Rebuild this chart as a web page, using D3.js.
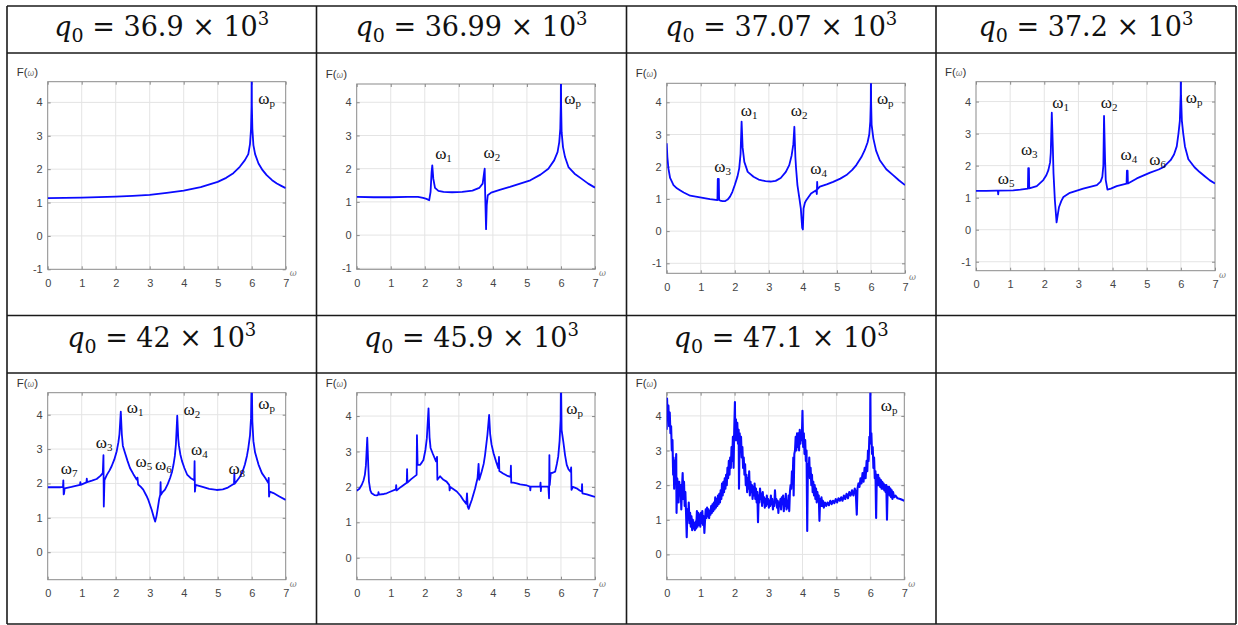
<!DOCTYPE html>
<html><head><meta charset="utf-8">
<script src="https://cdn.jsdelivr.net/npm/d3@7"></script>
<style>body{margin:0;background:#fff}svg{display:block}</style>
</head><body>
<svg id="c" width="1238" height="625"></svg>
<script>
// ---------- DATA ----------
const mantissas = ["36.9","36.99","37.07","37.2","42","45.9","47.1"];
const xTicks = [0,1,2,3,4,5,6,7];
const yTicks = [-1,0,1,2,3,4];

const s1 = [[0,1.13],[0.5,1.14],[1,1.15],[1.5,1.16],[2,1.18],[2.5,1.2],[3,1.23],[3.5,1.29],[4,1.36],[4.5,1.46],[5,1.62],[5.25,1.74],[5.46,1.88],[5.65,2.07],[5.8,2.27],[5.9,2.45],[5.95,2.75],[5.98,3.2],[5.995,3.9],[6.0,5.2],[6.005,3.9],[6.02,3.2],[6.05,2.72],[6.1,2.45],[6.2,2.17],[6.32,1.97],[6.44,1.82],[6.6,1.67],[6.74,1.57],[6.87,1.5],[7,1.43]];

const s2 = [[0,1.15],[0.5,1.14],[1,1.14],[1.5,1.15],[1.8,1.15],[1.95,1.12],[2.05,1.09],[2.13,1.05],[2.17,1.3],[2.2,1.9],[2.22,2.1],[2.25,1.7],[2.3,1.42],[2.4,1.33],[2.55,1.3],[2.8,1.29],[3.1,1.3],[3.4,1.34],[3.6,1.42],[3.7,1.55],[3.745,1.9],[3.76,2.0],[3.775,1.2],[3.8,0.18],[3.82,0.9],[3.85,1.2],[3.95,1.28],[4.2,1.36],[4.5,1.45],[4.8,1.55],[5.1,1.65],[5.4,1.82],[5.63,2.0],[5.8,2.25],[5.9,2.5],[5.95,2.8],[5.98,3.2],[5.995,3.9],[6.0,5.2],[6.005,3.9],[6.02,3.1],[6.06,2.65],[6.12,2.35],[6.22,2.05],[6.4,1.85],[6.6,1.7],[6.8,1.55],[7,1.43]];

const s3 = [[0,2.73],[0.02,2.3],[0.05,1.95],[0.1,1.65],[0.2,1.43],[0.3,1.33],[0.39,1.27],[0.5,1.2],[0.69,1.1],[0.98,1.05],[1.27,0.99],[1.49,0.96],[1.5,1.62],[1.53,1.62],[1.54,0.97],[1.57,0.95],[1.64,0.93],[1.71,0.93],[1.79,0.98],[1.86,1.07],[1.93,1.22],[2.0,1.43],[2.08,1.7],[2.13,1.95],[2.17,2.4],[2.2,3.4],[2.23,2.6],[2.28,2.15],[2.38,1.84],[2.55,1.69],[2.7,1.6],[2.9,1.55],[3.05,1.54],[3.2,1.56],[3.35,1.65],[3.5,1.84],[3.6,2.05],[3.67,2.35],[3.72,2.7],[3.75,3.24],[3.78,2.3],[3.8,1.95],[3.84,1.43],[3.9,1.0],[3.94,0.7],[3.98,0.1],[4.0,0.05],[4.02,0.7],[4.06,0.88],[4.1,0.96],[4.24,1.17],[4.39,1.27],[4.41,1.15],[4.42,1.53],[4.43,1.3],[4.5,1.38],[4.7,1.45],[4.89,1.53],[5.1,1.63],[5.28,1.74],[5.45,1.9],[5.57,2.05],[5.72,2.3],[5.82,2.52],[5.9,2.75],[5.95,3.0],[5.98,3.4],[5.995,4.0],[6.0,5.2],[6.005,4.0],[6.02,3.3],[6.07,2.88],[6.15,2.5],[6.26,2.2],[6.45,1.92],[6.65,1.74],[6.82,1.58],[7,1.43]];

const s4 = [[0,1.21],[0.3,1.21],[0.6,1.22],[0.64,1.22],[0.65,1.1],[0.66,1.22],[1.09,1.23],[1.3,1.25],[1.52,1.28],[1.53,1.92],[1.55,1.92],[1.56,1.29],[1.78,1.36],[1.97,1.55],[2.06,1.7],[2.12,1.86],[2.17,2.1],[2.19,2.4],[2.22,3.65],[2.25,2.6],[2.27,1.76],[2.31,0.92],[2.36,0.23],[2.4,0.5],[2.43,0.7],[2.5,0.9],[2.56,1.02],[2.75,1.15],[3.14,1.28],[3.54,1.39],[3.65,1.5],[3.7,1.65],[3.73,2.0],[3.75,3.55],[3.78,2.2],[3.8,1.55],[3.85,1.25],[3.95,1.28],[4.12,1.36],[4.41,1.44],[4.42,1.84],[4.44,1.84],[4.45,1.44],[4.71,1.6],[5.1,1.78],[5.35,1.88],[5.5,1.96],[5.7,2.17],[5.8,2.35],[5.88,2.6],[5.93,3.0],[5.97,3.4],[5.995,4.2],[6.0,5.2],[6.005,4.2],[6.03,3.4],[6.07,3.0],[6.12,2.6],[6.22,2.2],[6.4,1.95],[6.55,1.8],[6.7,1.67],[6.85,1.54],[7,1.44]];

const s5 = [[0,1.89],[0.2,1.89],[0.36,1.89],[0.45,1.9],[0.46,2.09],[0.47,1.68],[0.48,1.7],[0.5,1.86],[0.7,1.9],[0.95,1.96],[0.96,2.04],[0.97,1.96],[1.14,2.03],[1.15,2.14],[1.16,2.04],[1.3,2.08],[1.44,2.13],[1.55,2.22],[1.62,2.3],[1.64,2.82],[1.65,1.33],[1.67,2.1],[1.74,2.25],[1.82,2.38],[1.88,2.5],[1.96,2.7],[2.03,2.94],[2.08,3.2],[2.11,3.43],[2.15,4.09],[2.18,3.43],[2.21,3.1],[2.27,2.9],[2.35,2.65],[2.42,2.45],[2.52,2.27],[2.62,2.11],[2.64,2.17],[2.66,1.97],[2.74,1.9],[2.81,1.82],[2.9,1.65],[2.96,1.52],[3.06,1.23],[3.12,1.02],[3.16,0.89],[3.2,1.05],[3.23,1.23],[3.28,1.55],[3.31,1.67],[3.32,2.04],[3.33,1.67],[3.38,1.75],[3.45,1.82],[3.53,1.98],[3.6,2.16],[3.66,2.35],[3.7,2.55],[3.74,2.8],[3.77,3.13],[3.81,3.97],[3.84,3.3],[3.86,3.1],[3.9,2.85],[3.95,2.65],[4.02,2.45],[4.1,2.26],[4.2,2.16],[4.31,2.09],[4.32,2.65],[4.33,1.76],[4.35,1.96],[4.45,1.93],[4.58,1.89],[4.75,1.84],[4.97,1.81],[5.15,1.83],[5.3,1.88],[5.48,1.99],[5.49,2.3],[5.5,1.99],[5.6,2.12],[5.66,2.2],[5.75,2.4],[5.8,2.55],[5.86,2.8],[5.9,3.03],[5.95,3.4],[5.98,3.9],[6.0,5.2],[6.02,3.8],[6.05,3.23],[6.1,2.9],[6.2,2.55],[6.3,2.3],[6.4,2.16],[6.49,2.01],[6.5,2.16],[6.51,1.62],[6.53,1.76],[6.64,1.72],[6.8,1.63],[7,1.52]];

const s6 = [[0,1.89],[0.08,1.95],[0.15,2.06],[0.2,2.18],[0.24,2.34],[0.27,2.6],[0.31,3.39],[0.34,2.6],[0.36,2.15],[0.4,1.9],[0.44,1.82],[0.52,1.77],[0.59,1.76],[0.63,1.78],[0.64,1.85],[0.65,1.78],[0.8,1.8],[0.88,1.82],[1.0,1.87],[1.15,1.93],[1.16,2.05],[1.17,1.9],[1.3,2.0],[1.47,2.12],[1.48,2.5],[1.49,2.12],[1.6,2.22],[1.76,2.34],[1.77,3.46],[1.79,2.62],[1.86,2.62],[1.92,2.7],[1.96,2.76],[2.02,3.05],[2.06,3.37],[2.11,4.22],[2.14,3.4],[2.17,3.1],[2.23,2.95],[2.33,2.72],[2.36,2.85],[2.37,2.2],[2.45,2.3],[2.55,2.2],[2.64,2.15],[2.72,2.05],[2.73,1.9],[2.75,2.0],[2.94,1.87],[3.05,1.75],[3.13,1.63],[3.22,1.52],[3.24,1.82],[3.26,1.45],[3.29,1.38],[3.33,1.5],[3.38,1.63],[3.48,1.96],[3.55,2.25],[3.58,2.65],[3.6,2.2],[3.67,2.43],[3.73,2.65],[3.77,2.9],[3.84,3.47],[3.89,4.03],[3.92,3.5],[3.96,3.2],[4.02,2.95],[4.1,2.7],[4.16,2.53],[4.18,2.85],[4.19,2.45],[4.3,2.38],[4.41,2.32],[4.52,2.28],[4.53,2.6],[4.54,2.12],[4.6,2.12],[4.7,2.1],[4.8,2.07],[4.9,2.06],[5.0,2.04],[5.09,2.01],[5.1,1.9],[5.11,2.01],[5.25,2.01],[5.39,2.01],[5.4,2.12],[5.41,1.88],[5.42,2.01],[5.63,2.01],[5.65,1.68],[5.66,2.9],[5.67,2.05],[5.7,2.39],[5.76,2.4],[5.83,2.43],[5.88,2.65],[5.92,2.86],[5.96,3.3],[5.99,3.9],[6.0,5.2],[6.02,3.6],[6.07,3.27],[6.12,2.9],[6.17,2.62],[6.22,2.5],[6.28,2.43],[6.3,2.55],[6.31,1.92],[6.35,2.0],[6.46,1.96],[6.55,1.9],[6.61,1.87],[6.62,2.08],[6.63,1.82],[6.76,1.79],[6.9,1.75],[7,1.72]];

const s7 = [[0,3.6],[0.01,4.5],[0.03,3.9],[0.05,4.3],[0.07,3.7],[0.09,4.1],[0.11,3.5],[0.13,3.7],[0.15,3.0],[0.17,3.3],[0.19,2.3],[0.2,2.8],[0.22,1.9],[0.24,2.7],[0.26,2.4],[0.28,2.9],[0.29,1.2],[0.31,2.2],[0.33,2.0],[0.35,1.5],[0.37,2.1],[0.39,1.7],[0.41,2.0],[0.43,1.3],[0.45,1.9],[0.47,2.35],[0.49,1.6],[0.51,2.1],[0.53,1.4],[0.55,1.8],[0.57,1.2],[0.59,0.5],[0.61,1.3],[0.63,1.0],[0.65,1.5],[0.67,0.9],[0.69,1.2],[0.71,0.8],[0.73,1.1],[0.75,0.7],[0.77,1.0],[0.79,0.75],[0.81,0.9],[0.83,0.7],[0.85,0.95],[0.87,0.75],[0.89,1.25],[0.91,0.8],[0.93,1.2],[0.95,0.85],[0.97,1.15],[0.99,0.8],[1.01,1.2],[1.03,0.9],[1.05,1.25],[1.07,0.85],[1.09,1.1],[1.11,0.62],[1.13,1.0],[1.15,1.3],[1.17,1.05],[1.19,1.35],[1.21,1.1],[1.23,1.3],[1.25,1.05],[1.27,1.25],[1.29,1.15],[1.31,1.4],[1.33,1.2],[1.35,1.45],[1.37,1.25],[1.39,1.5],[1.41,1.3],[1.43,1.65],[1.45,1.35],[1.47,1.6],[1.49,1.4],[1.51,1.7],[1.53,1.45],[1.55,1.75],[1.57,1.5],[1.59,1.85],[1.61,1.6],[1.63,2.05],[1.65,1.7],[1.67,2.1],[1.69,1.8],[1.71,2.2],[1.73,1.9],[1.75,2.3],[1.77,2.0],[1.79,2.5],[1.81,2.2],[1.83,2.7],[1.85,2.3],[1.87,2.8],[1.89,2.5],[1.91,3.1],[1.93,2.7],[1.95,3.4],[1.97,2.5],[1.99,3.6],[2.01,4.4],[2.02,3.3],[2.04,3.9],[2.06,3.3],[2.08,3.8],[2.1,3.2],[2.12,3.6],[2.13,1.9],[2.15,3.5],[2.17,3.0],[2.19,3.4],[2.21,2.8],[2.23,3.1],[2.25,2.5],[2.27,2.8],[2.29,2.3],[2.31,2.6],[2.33,2.0],[2.35,2.3],[2.37,1.8],[2.39,2.2],[2.41,1.9],[2.43,2.4],[2.45,1.7],[2.47,2.1],[2.49,1.8],[2.51,2.0],[2.53,1.6],[2.55,1.95],[2.57,1.7],[2.59,2.05],[2.61,1.6],[2.63,1.9],[2.65,1.5],[2.67,1.8],[2.69,0.93],[2.71,1.7],[2.73,1.5],[2.75,1.9],[2.77,1.6],[2.79,1.75],[2.81,1.4],[2.83,1.8],[2.85,1.5],[2.87,1.65],[2.89,1.35],[2.91,1.6],[2.93,1.4],[2.95,1.7],[2.97,1.45],[2.99,1.6],[3.01,1.35],[3.03,1.55],[3.05,1.4],[3.07,1.7],[3.09,1.45],[3.11,1.6],[3.13,1.3],[3.15,1.5],[3.17,1.4],[3.19,1.85],[3.21,1.5],[3.23,1.6],[3.25,1.35],[3.27,1.55],[3.29,1.2],[3.31,1.5],[3.33,1.4],[3.35,1.6],[3.37,1.3],[3.39,1.65],[3.41,1.45],[3.43,1.7],[3.45,1.25],[3.47,1.6],[3.49,1.4],[3.51,1.75],[3.53,1.3],[3.55,1.55],[3.57,1.35],[3.59,1.7],[3.61,1.25],[3.63,1.8],[3.65,2.0],[3.67,1.9],[3.69,2.4],[3.71,2.1],[3.73,2.8],[3.74,1.7],[3.76,2.9],[3.78,3.0],[3.8,3.4],[3.82,3.0],[3.84,3.5],[3.86,3.1],[3.88,3.5],[3.9,3.0],[3.92,3.6],[3.94,3.2],[3.96,3.5],[3.98,3.3],[4.0,4.15],[4.02,3.1],[4.04,3.5],[4.06,2.9],[4.08,3.3],[4.1,2.7],[4.12,3.0],[4.14,0.68],[4.16,2.6],[4.18,2.3],[4.2,2.8],[4.22,2.2],[4.24,2.5],[4.26,2.0],[4.28,2.3],[4.3,1.8],[4.32,2.1],[4.34,1.7],[4.36,2.0],[4.38,1.6],[4.4,1.9],[4.42,1.5],[4.44,1.8],[4.46,1.55],[4.48,1.7],[4.5,0.97],[4.52,1.6],[4.54,1.4],[4.56,1.65],[4.58,1.4],[4.6,1.55],[4.63,1.35],[4.66,1.5],[4.7,1.4],[4.74,1.5],[4.78,1.42],[4.82,1.55],[4.86,1.45],[4.9,1.55],[4.94,1.48],[4.98,1.6],[5.02,1.5],[5.06,1.62],[5.1,1.55],[5.14,1.65],[5.18,1.55],[5.22,1.7],[5.26,1.6],[5.3,1.75],[5.34,1.62],[5.38,1.8],[5.42,1.7],[5.46,1.85],[5.5,1.7],[5.54,1.9],[5.57,1.8],[5.6,1.15],[5.62,1.9],[5.65,2.05],[5.68,1.95],[5.71,2.2],[5.74,2.05],[5.77,2.35],[5.8,2.1],[5.83,2.5],[5.86,2.2],[5.89,2.7],[5.91,2.4],[5.93,3.0],[5.95,2.7],[5.97,3.4],[5.99,3.2],[6.0,4.8],[6.01,3.3],[6.03,3.5],[6.05,2.9],[6.07,3.1],[6.09,2.5],[6.11,2.8],[6.13,2.2],[6.15,2.4],[6.17,1.05],[6.19,2.3],[6.21,2.0],[6.23,2.3],[6.25,2.0],[6.27,2.2],[6.29,1.95],[6.31,2.15],[6.33,1.9],[6.35,2.1],[6.37,1.9],[6.39,2.05],[6.41,1.85],[6.43,2.0],[6.45,1.8],[6.47,2.0],[6.49,1.0],[6.51,1.95],[6.53,1.75],[6.55,1.95],[6.57,1.7],[6.59,1.9],[6.61,1.65],[6.63,1.85],[6.65,1.6],[6.67,1.8],[6.7,1.65],[6.74,1.7],[6.8,1.62],[6.88,1.6],[6.95,1.57],[7,1.55]];

// peak annotations: [subscript, omega, F]
const lab1 = [["p",6.44,3.95]];
const lab2 = [["1",2.55,2.3],["2",3.97,2.33],["p",6.34,3.95]];
const lab3 = [["1",2.42,3.58],["2",3.89,3.58],["3",1.64,1.84],["4",4.46,1.77],["p",6.42,3.94]];
const lab4 = [["5",0.88,1.44],["3",1.56,2.33],["1",2.48,3.79],["2",3.9,3.79],["4",4.48,2.19],["6",5.32,2.02],["p",6.39,3.97]];
const lab5 = [["7",0.63,2.27],["3",1.66,3.03],["1",2.57,4.04],["5",2.83,2.48],["6",3.4,2.4],["2",4.24,3.99],["4",4.46,2.82],["8",5.56,2.27],["p",6.44,4.18]];
const lab6 = [["p",6.4,4.05]];
const lab7 = [["p",6.55,4.15]];

// ---------- LAYOUT ----------
const svg = d3.select("#c");
const colX = [7,316.5,626.5,936,1236];
const rowY = [6,53,315.5,373,624];
const titleBase = [36,347];

const panels = [
  {m:mantissas[0], data:s1, labs:lab1, col:0,row:0, rect:[47.7,81.7,285.7,269.3], yd:[-1,4.62], lw:1.8},
  {m:mantissas[1], data:s2, labs:lab2, col:1,row:0, rect:[356.7,84,595,269.3], yd:[-1.03,4.55], lw:1.8},
  {m:mantissas[2], data:s3, labs:lab3, col:2,row:0, rect:[666.7,83.3,905,273.3], yd:[-1.31,4.59], lw:1.8},
  {m:mantissas[3], data:s4, labs:lab4, col:3,row:0, rect:[976,81.7,1215,270.7], yd:[-1.28,4.62], lw:1.8},
  {m:mantissas[4], data:s5, labs:lab5, col:0,row:1, rect:[47.7,392.7,285.7,579.7], yd:[-0.8,4.64], lw:1.8},
  {m:mantissas[5], data:s6, labs:lab6, col:1,row:1, rect:[356.7,392.7,595,579.7], yd:[-0.62,4.66], lw:1.8},
  {m:mantissas[6], data:s7, labs:lab7, col:2,row:1, rect:[666.7,392.7,904.3,579.7], yd:[-0.73,4.67], lw:2.1},
];

// table grid
const tbl = svg.append("g").attr("stroke","#1a1a1a").attr("stroke-width",1.6);
colX.forEach(x=>tbl.append("line").attr("x1",x).attr("x2",x).attr("y1",rowY[0]).attr("y2",rowY[4]));
rowY.forEach(y=>tbl.append("line").attr("x1",colX[0]).attr("x2",colX[4]).attr("y1",y).attr("y2",y));

const defs = svg.append("defs");
const tickFont = "'Liberation Sans', Arial, sans-serif";

panels.forEach((p,i)=>{
  const [l,t,r,b] = p.rect;
  const x = d3.scaleLinear().domain([0,7]).range([l,r]);
  const y = d3.scaleLinear().domain(p.yd).range([b,t]);
  const g = svg.append("g");

  // title
  const cx = (colX[p.col]+colX[p.col+1])/2;
  const tt = g.append("text").attr("x",cx).attr("y",titleBase[p.row])
     .attr("text-anchor","middle").attr("fill","#111")
     .style("font-family","'DejaVu Serif', serif").style("font-size","27px");
  tt.append("tspan").text("q").style("font-style","italic");
  tt.append("tspan").text("0").attr("dy",6).style("font-size","19px");
  tt.append("tspan").text(" = " + p.m + " × 10").attr("dy",-6);
  tt.append("tspan").text("3").attr("dy",-11).style("font-size","18px");

  const yt = yTicks.filter(v=>v>=p.yd[0]-1e-6 && v<=p.yd[1]);

  // grid
  g.append("g").selectAll("line").data(xTicks.filter(v=>v>0&&v<7)).join("line")
    .attr("x1",d=>x(d)).attr("x2",d=>x(d)).attr("y1",t).attr("y2",b)
    .attr("stroke","#e4e4e4").attr("stroke-width",1);
  g.append("g").selectAll("line").data(yt.filter(v=>v>p.yd[0]+1e-6)).join("line")
    .attr("y1",d=>y(d)).attr("y2",d=>y(d)).attr("x1",l).attr("x2",r)
    .attr("stroke","#e4e4e4").attr("stroke-width",1);

  // axes
  const fmt = d=>String(d);
  const styleAx = sel=>{
    sel.select(".domain").remove();
    sel.selectAll("line").attr("stroke","#8a8a8a");
    sel.selectAll("text").attr("fill","#444").style("font-family",tickFont).style("font-size","11px");
  };
  g.append("g").attr("transform",`translate(0,${b})`)
    .call(d3.axisBottom(x).tickValues(xTicks).tickSize(-3).tickPadding(10).tickFormat(fmt)).call(styleAx);
  g.append("g").attr("transform",`translate(${l},0)`)
    .call(d3.axisLeft(y).tickValues(yt).tickSize(-3).tickPadding(5).tickFormat(fmt)).call(styleAx);
  g.append("g").attr("transform",`translate(0,${t})`)
    .call(d3.axisTop(x).tickValues(xTicks).tickSize(-3).tickFormat("")).call(styleAx);
  g.append("g").attr("transform",`translate(${r},0)`)
    .call(d3.axisRight(y).tickValues(yt).tickSize(-3).tickFormat("")).call(styleAx);

  g.append("rect").attr("x",l).attr("y",t).attr("width",r-l).attr("height",b-t)
    .attr("fill","none").attr("stroke","#8a8a8a").attr("stroke-width",1);

  // axis labels
  const fl = g.append("text").attr("x",l-31).attr("y",t-6).attr("fill","#333")
    .style("font-family",tickFont).style("font-size","11.5px");
  fl.append("tspan").text("F(");
  fl.append("tspan").text("ω").style("font-style","italic").style("font-size","8.5px").attr("fill","#777");
  fl.append("tspan").text(")");
  g.append("text").attr("x",r+4).attr("y",b+7).text("ω").attr("fill","#777")
    .style("font-family","'DejaVu Serif', serif").style("font-style","italic").style("font-size","8.5px");

  // clip + curve
  const cid = "clip"+i;
  defs.append("clipPath").attr("id",cid).append("rect").attr("x",l).attr("y",t).attr("width",r-l).attr("height",b-t);
  const line = d3.line().x(d=>x(d[0])).y(d=>y(d[1]));
  g.append("path").datum(p.data).attr("clip-path",`url(#${cid})`).attr("d",line)
    .attr("fill","none").attr("stroke","#0a0aff").attr("stroke-width",p.lw).attr("stroke-linejoin","round");

  // annotations
  p.labs.forEach(([s,wx,fy])=>{
    const tx = g.append("text").attr("x",x(wx)).attr("y",y(fy)).attr("text-anchor","middle")
      .attr("fill","#111").style("font-family","'Liberation Serif', 'Times New Roman', serif").style("font-size","17px");
    tx.append("tspan").text("ω");
    tx.append("tspan").text(s).attr("dy",3).style("font-size","11px");
  });
});
</script>
</body></html>
